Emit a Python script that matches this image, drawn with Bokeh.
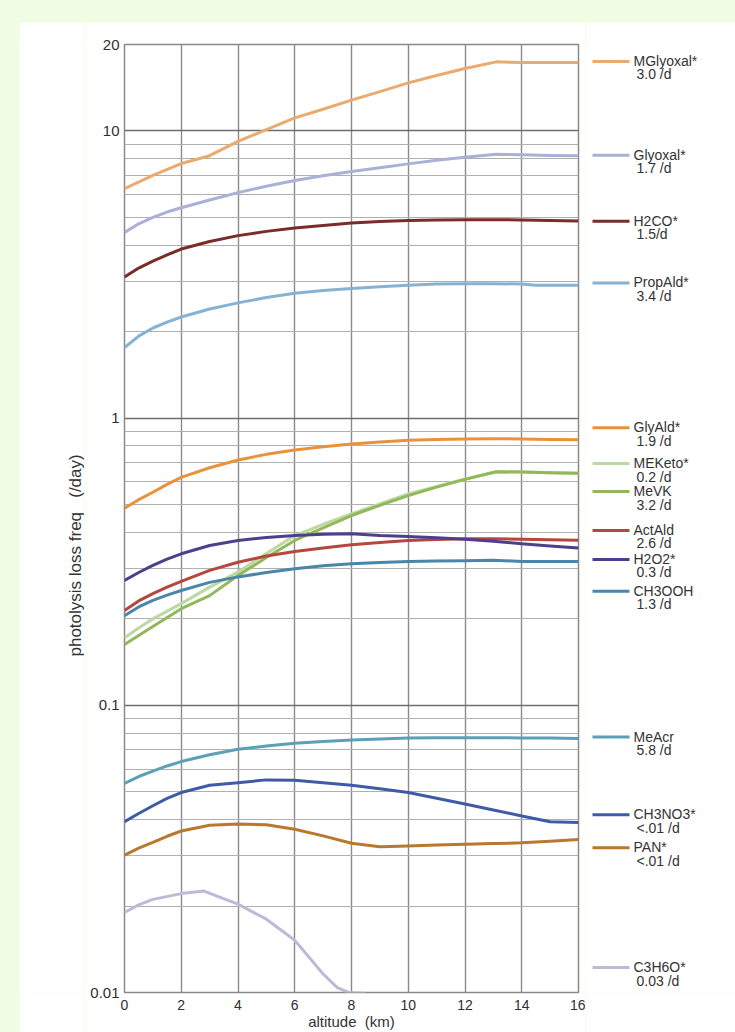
from bokeh.plotting import figure
from bokeh.models import (Range1d, FixedTicker, Spacer, CustomJSTickFormatter,
                          GlobalInlineStyleSheet)
from bokeh.layouts import row, column
from bokeh.core.properties import value
from bokeh.embed import file_html
from bokeh.resources import INLINE
import math

FONT = "Liberation Sans"

# ---------------- data ----------------
alt_std = [0, 0.5, 1, 1.5, 2, 3, 4, 5, 6, 7, 8, 9, 10, 11, 12, 13, 14, 15, 16]

mglyoxal_alt = [0, 1, 2, 3, 4, 5, 6, 7, 8, 9, 10, 11, 12, 13.1, 14, 15, 16]
mglyoxal = [6.3, 7.0, 7.7, 8.2, 9.2, 10.1, 11.1, 11.9, 12.8, 13.7, 14.7, 15.6, 16.5, 17.4, 17.3, 17.3, 17.3]

glyoxal_alt = [0, 0.5, 1, 1.5, 2, 3, 4, 5, 6, 7, 8, 9, 10, 11, 12, 13.1, 14, 15, 16]
glyoxal = [4.43, 4.75, 5.0, 5.22, 5.4, 5.75, 6.1, 6.42, 6.72, 6.98, 7.22, 7.45, 7.68, 7.9, 8.1, 8.3, 8.27, 8.22, 8.2]

h2co = [3.1, 3.33, 3.52, 3.7, 3.88, 4.12, 4.32, 4.47, 4.59, 4.69, 4.78, 4.84, 4.88, 4.9, 4.91, 4.91, 4.9, 4.88, 4.86]

propald_alt = [0, 0.5, 1, 1.5, 2, 3, 4, 5, 6, 7, 8, 9, 10, 11, 12, 13, 14, 14.5, 16]
propald = [1.76, 1.93, 2.06, 2.16, 2.25, 2.4, 2.52, 2.63, 2.72, 2.78, 2.83, 2.87, 2.9, 2.93, 2.94, 2.94, 2.93, 2.9, 2.9]

glyald = [0.486, 0.52, 0.552, 0.588, 0.622, 0.672, 0.715, 0.748, 0.774, 0.795, 0.812, 0.826, 0.837, 0.843, 0.846, 0.848, 0.846, 0.843, 0.841]

keto_alt = [0, 0.5, 1, 2, 3, 4, 5, 6, 7, 8, 9, 10, 11, 12, 13.1, 14, 15, 16]
meketo = [0.172, 0.186, 0.2, 0.226, 0.258, 0.291, 0.338, 0.39, 0.427, 0.464, 0.503, 0.545, 0.578, 0.614, 0.651, 0.649, 0.646, 0.643]
mevk = [0.163, 0.175, 0.188, 0.217, 0.241, 0.283, 0.327, 0.375, 0.415, 0.458, 0.497, 0.537, 0.575, 0.612, 0.651, 0.649, 0.646, 0.643]

actald = [0.214, 0.231, 0.245, 0.258, 0.27, 0.295, 0.315, 0.331, 0.343, 0.353, 0.362, 0.369, 0.375, 0.378, 0.38, 0.38, 0.379, 0.377, 0.376]
h2o2 = [0.272, 0.29, 0.307, 0.323, 0.337, 0.36, 0.375, 0.384, 0.39, 0.394, 0.396, 0.39, 0.387, 0.383, 0.379, 0.373, 0.365, 0.359, 0.353]
ch3ooh = [0.205, 0.22, 0.232, 0.242, 0.251, 0.268, 0.28, 0.29, 0.299, 0.306, 0.311, 0.314, 0.317, 0.318, 0.319, 0.32, 0.317, 0.317, 0.317]

meacr = [0.0535, 0.0565, 0.059, 0.0615, 0.0637, 0.0673, 0.0703, 0.0722, 0.0738, 0.0748, 0.0757, 0.0764, 0.0769, 0.0771, 0.0771, 0.0771, 0.077, 0.0769, 0.0766]
ch3no3 = [0.0393, 0.042, 0.0447, 0.0474, 0.0497, 0.0527, 0.0538, 0.055, 0.0548, 0.0538, 0.0527, 0.0512, 0.0497, 0.0475, 0.0453, 0.0432, 0.0412, 0.0393, 0.0391]
pan = [0.0301, 0.0318, 0.0333, 0.035, 0.0365, 0.0382, 0.0386, 0.0384, 0.037, 0.0351, 0.0331, 0.0322, 0.0324, 0.0326, 0.0328, 0.033, 0.0332, 0.0336, 0.0341]

c3h6o_alt = [0, 0.5, 1, 2, 2.8, 4, 5, 6, 7, 7.5, 7.9, 8.5]
c3h6o = [0.019, 0.0202, 0.0211, 0.0221, 0.02255, 0.0203, 0.018, 0.0152, 0.0116, 0.0104, 0.0100, 0.00995]

names = ["MGlyoxal*", "Glyoxal*", "H2CO*", "PropAld*", "GlyAld*", "MEKeto*", "MeVK",
         "ActAld", "H2O2*", "CH3OOH", "MeAcr", "CH3NO3*", "PAN*", "C3H6O*"]
rates = ["3.0 /d", "1.7 /d", "1.5/d", "3.4 /d", "1.9 /d", "0.2 /d", "3.2 /d",
         "2.6 /d", "0.3 /d", "1.3 /d", "5.8 /d", "<.01 /d", "<.01 /d", "0.03 /d"]
colors = ["#EBAA6E", "#AAB0D6", "#7A2C2A", "#86B2D3", "#E8923C", "#BDD8A6", "#93B85A",
          "#B5473E", "#4E3F8C", "#4A86A8", "#5CA0B8", "#3F5BA8", "#B8782E", "#BEBAD6"]

series_x = [mglyoxal_alt, glyoxal_alt, alt_std, propald_alt, alt_std, keto_alt, keto_alt,
            alt_std, alt_std, alt_std, alt_std, alt_std, alt_std, c3h6o_alt]
series_y = [mglyoxal, glyoxal, h2co, propald, glyald, meketo, mevk,
            actald, h2o2, ch3ooh, meacr, ch3no3, pan, c3h6o]

x_ticks = [0, 2, 4, 6, 8, 10, 12, 14, 16]
y_ticks = [0.01, 0.1, 1, 10, 20]
y_minor = [m * 10.0 ** e for e in (-2, -1, 0) for m in range(2, 10)]

NB = "\u00a0"
x_title = "altitude" + NB * 2 + "(km)"
y_title = "photolysis loss freq" + NB * 3 + "(/day)"

# layout rows (page pixels) for legend entries and the y title
legend_rows = [61, 155, 221, 283, 428, 464, 492, 531, 560, 592, 738, 816, 849, 969]
y_title_row = 556

TOP, BOTTOM, H = 22, 38, 1010     # frame spans page y 44 .. 994
FRAME_TOP, FRAME_BOTTOM = 44, 994

# ---------------- left strip with the y title ----------------
lab = figure(width=65, height=H, x_range=Range1d(19, 84), y_range=Range1d(FRAME_BOTTOM, FRAME_TOP),
             output_backend="svg", toolbar_location=None,
             x_axis_location=None, y_axis_location=None,
             min_border_left=0, min_border_right=0, min_border_top=TOP, min_border_bottom=BOTTOM)
lab.outline_line_color = None
lab.xgrid.visible = False
lab.ygrid.visible = False
lab.background_fill_color = "white"
lab.border_fill_color = "white"
lab.text(x=[75], y=[y_title_row], text=[y_title], angle=math.pi / 2,
         text_font=value(FONT), text_font_size=value("17px"), text_color="#333333",
         text_align="center", text_baseline="middle")

# ---------------- main figure ----------------
p = figure(width=501, height=H, y_axis_type="log",
           x_range=Range1d(0, 16), y_range=Range1d(0.01, 20),
           output_backend="svg", toolbar_location=None,
           min_border_left=40, min_border_right=7, min_border_top=TOP, min_border_bottom=BOTTOM)
p.background_fill_color = "white"
p.border_fill_color = "white"
p.outline_line_color = "#8a8a8a"
p.outline_line_width = 1.5

p.xaxis.ticker = FixedTicker(ticks=x_ticks)
p.yaxis.ticker = FixedTicker(ticks=y_ticks, minor_ticks=y_minor)
p.yaxis.formatter = CustomJSTickFormatter(code="return tick.toString();")
for ax in (p.xaxis, p.yaxis):
    ax.axis_line_color = None
    ax.major_tick_line_color = None
    ax.minor_tick_line_color = None
    ax.major_tick_in = 0
    ax.major_tick_out = 0
    ax.minor_tick_in = 0
    ax.minor_tick_out = 0
    ax.major_label_text_font = FONT
    ax.major_label_text_color = "#2e2e2e"
p.yaxis.major_label_text_font_size = "15px"
p.xaxis.major_label_text_font_size = "14px"
p.yaxis.major_label_standoff = 5
p.xaxis.major_label_standoff = 7
p.xaxis.axis_label = x_title
p.xaxis.axis_label_standoff = 0
p.xaxis.axis_label_text_font = FONT
p.xaxis.axis_label_text_font_size = "15px"
p.xaxis.axis_label_text_font_style = "normal"
p.xaxis.axis_label_text_color = "#333333"

p.xgrid.ticker = FixedTicker(ticks=x_ticks)
p.xgrid.grid_line_color = "#8a8a8a"
p.xgrid.grid_line_width = 1.4
p.ygrid.grid_line_color = "#6e6e6e"
p.ygrid.grid_line_width = 1.3
p.ygrid.minor_grid_line_color = "#b0b0b0"
p.ygrid.minor_grid_line_width = 1.0

for xs, ys, c in zip(series_x, series_y, colors):
    p.line(xs, ys, line_color=c, line_width=3, line_join="round")

# ---------------- legend strip ----------------
q = figure(width=150, height=H, x_range=Range1d(585, 735), y_range=Range1d(FRAME_BOTTOM, FRAME_TOP),
           output_backend="svg", toolbar_location=None,
           x_axis_location=None, y_axis_location=None,
           min_border_left=0, min_border_right=0, min_border_top=TOP, min_border_bottom=BOTTOM)
q.outline_line_color = None
q.xgrid.visible = False
q.ygrid.visible = False
q.background_fill_color = "white"
q.border_fill_color = "white"

q.segment(x0=[592] * len(names), x1=[629] * len(names), y0=legend_rows, y1=legend_rows,
          line_color=colors, line_width=3)
q.text(x=[633] * len(names), y=[r - 0.5 for r in legend_rows], text=names,
       text_font=value(FONT), text_font_size=value("14px"), text_color="#333333",
       text_baseline="middle", text_align="left")
q.text(x=[636] * len(names), y=[r + 13 for r in legend_rows], text=rates,
       text_font=value(FONT), text_font_size=value("14px"), text_color="#333333",
       text_baseline="middle", text_align="left")

css = GlobalInlineStyleSheet(css="html, body { margin: 0; padding: 0; background: #F0FDE2; overflow: hidden; }")
layout = column(Spacer(width=10, height=TOP),
                row(Spacer(width=19, height=H), lab, p, q),
                stylesheets=[css])

open("out.html", "w").write(file_html(layout, INLINE))
